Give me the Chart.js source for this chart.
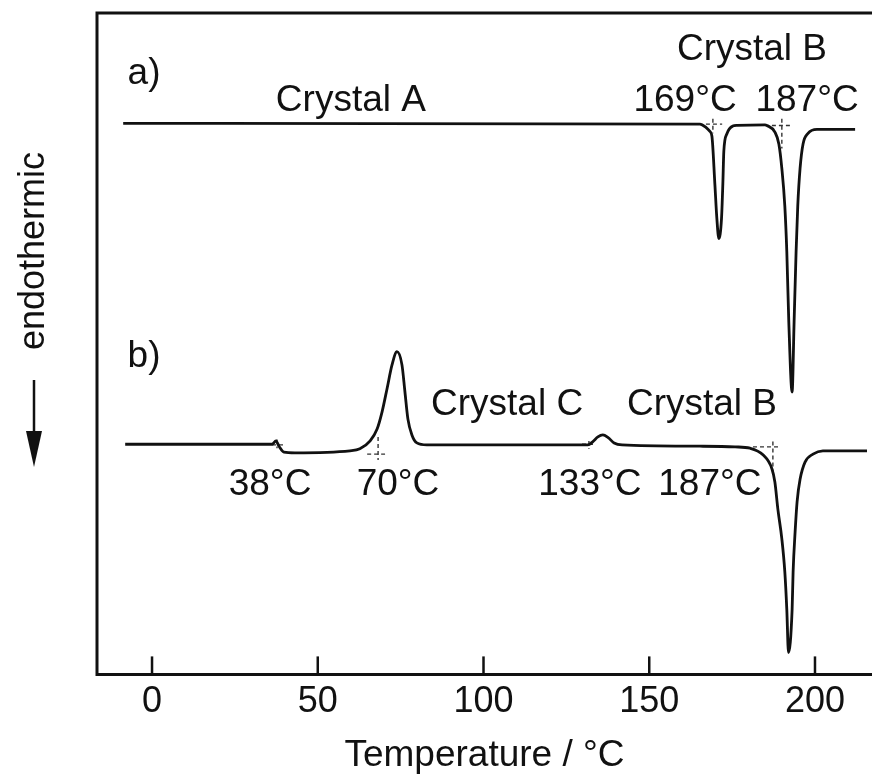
<!DOCTYPE html>
<html><head><meta charset="utf-8">
<script src="https://cdn.jsdelivr.net/npm/chart.js@4.4.1/dist/chart.umd.min.js"></script>
<style>html,body{margin:0;padding:0;background:#fff}#wrap{width:872px;height:774px;position:relative}</style>
</head><body><div id="wrap"><canvas id="c"></canvas></div>
<script>
// ---- data (temperature in °C, heat flow in arbitrary units) ----
const tempA = [-8.7, 165.3, 167.1, 168.3, 168.9, 169.8, 170.4, 171.0, 171.8, 172.2, 172.5, 173.4, 175.2, 176.5, 184.9,
  185.5, 187.9, 189.1, 190.0, 190.9, 191.5, 192.1, 193.1, 193.7, 194.3, 194.8, 195.5, 196.4, 197.9, 200.6, 212.1];
const signalA = [83.3, 83.2, 82.7, 82.1, 81.4, 74.1, 68.9, 65.9, 68.9, 74.1, 79.1, 81.7, 82.9, 83.0, 83.1,
  83.0, 82.0, 80.2, 76.5, 70.8, 63.9, 53.3, 42.7, 53.3, 63.9, 70.8, 76.5, 80.2, 81.8, 82.4, 82.4];

const tempB = [-8.1, 36.2, 37.4, 38.3, 39.8, 43.1, 59.7, 62.7, 65.8, 67.9, 69.4, 70.9, 72.4, 73.9, 75.4, 76.3, 77.2, 78.4, 79.9, 82.9,
  131.5, 133.0, 134.5, 136.0, 137.6, 139.4, 141.8, 165.3, 175.9,
  180.4, 184.3, 187.0, 187.9, 188.8, 190.0, 190.9, 191.5, 192.0, 193.1, 193.4, 194.0, 194.6, 195.5, 197.0, 199.4, 202.4, 215.7];
const signalB = [34.8, 34.8, 35.3, 34.5, 33.6, 33.5, 33.8, 34.1, 35.3, 37.1, 39.7, 43.2, 46.8, 48.8, 46.8, 42.7, 38.6, 36.2, 35.0, 34.7,
  34.7, 35.2, 35.9, 36.2, 35.8, 35.0, 34.7, 34.5, 34.4,
  34.2, 33.2, 31.1, 29.1, 25.0, 20.5, 15.5, 9.8, 3.3, 9.8, 15.5, 21.5, 26.1, 29.5, 32.1, 33.3, 33.8, 33.8];

// onset (tangent) construction marks; null separates segments
const onsetTemps = [167.1, 172.0, null, 169.2, 169.2, null, 187.0, 192.5, null, 190.0, 190.0, null,
  36.2, 39.8, null, 37.7, 37.7, null, 64.9, 70.3, null, 68.2, 68.2, null,
  129.7, 133.3, null, 131.8, 131.8, null, 181.3, 189.1, null, 187.3, 187.3];
const onsetSignals = [83.2, 83.2, null, 84.0, 81.8, null, 83.0, 83.0, null, 84.0, 79.5, null,
  34.7, 34.7, null, 35.5, 34.2, null, 33.3, 33.3, null, 35.9, 32.4, null,
  34.8, 34.8, null, 35.3, 34.1, null, 34.4, 34.4, null, 35.2, 30.6];

const xTicks = [0, 50, 100, 150, 200];

const labelTexts = ['a)', 'Crystal A', 'Crystal B', '169°C', '187°C',
  'b)', 'Crystal C', 'Crystal B', '38°C', '70°C', '133°C', '187°C'];
const labelTemps = [-2.4, 60.0, 181.0, 160.8, 197.6, -2.4, 107.1, 165.9, 35.6, 74.2, 132.1, 168.3];
const labelSignals = [89.2, 85.2, 92.9, 85.2, 85.2, 46.5, 39.2, 39.2, 27.1, 27.1, 27.1, 27.1];

const FONT = '"Liberation Sans", Arial, Helvetica, sans-serif';
const INK = '#111';

const xy = (xs, ys) => xs.map((t, i) => ({x: t === null ? xs[i - 1] : t, y: ys[i]}));

const decor = {
  id: 'decor',
  afterDraw(chart) {
    const {ctx, chartArea: a, scales: {x, y}} = chart;
    ctx.save();
    ctx.strokeStyle = INK; ctx.fillStyle = INK;
    ctx.lineWidth = 3; ctx.lineCap = 'square';
    ctx.beginPath();
    ctx.moveTo(a.left, a.bottom); ctx.lineTo(a.left, a.top); ctx.lineTo(a.right + 5, a.top);
    ctx.stroke();
    // inward ticks
    ctx.lineWidth = 2.5; ctx.lineCap = 'butt';
    xTicks.forEach(v => {
      const px = x.getPixelForValue(v);
      ctx.beginPath(); ctx.moveTo(px, a.bottom); ctx.lineTo(px, a.bottom - 18); ctx.stroke();
    });
    // annotations
    ctx.font = '37px ' + FONT; ctx.textAlign = 'center'; ctx.textBaseline = 'alphabetic';
    labelTexts.forEach((t, i) => {
      ctx.fillText(t, x.getPixelForValue(labelTemps[i]), y.getPixelForValue(labelSignals[i]));
    });
    // y label with arrow
    ctx.save();
    ctx.translate(44, 251); ctx.rotate(-Math.PI / 2);
    ctx.textAlign = 'center'; ctx.font = '36px ' + FONT;
    ctx.fillText('endothermic', 0, 0);
    ctx.restore();
    ctx.lineWidth = 2.5;
    ctx.beginPath(); ctx.moveTo(34, 380); ctx.lineTo(34, 440); ctx.stroke();
    ctx.beginPath(); ctx.moveTo(26, 431); ctx.lineTo(42, 431); ctx.lineTo(34, 467); ctx.closePath(); ctx.fill();
    ctx.restore();
  }
};

new Chart(document.getElementById('c'), {
  type: 'line',
  data: {datasets: [
    {label: 'a)', data: xy(tempA, signalA), borderColor: INK, borderWidth: 2.8, pointRadius: 0,
     cubicInterpolationMode: 'monotone', fill: false},
    {label: 'b)', data: xy(tempB, signalB), borderColor: INK, borderWidth: 2.8, pointRadius: 0,
     cubicInterpolationMode: 'monotone', fill: false},
    {label: 'onset', data: xy(onsetTemps, onsetSignals), borderColor: '#333', borderWidth: 1.4,
     borderDash: [4, 3], pointRadius: 0, spanGaps: false, fill: false}
  ]},
  options: {
    responsive: true, maintainAspectRatio: false, animation: false,
    layout: {padding: {left: 97, top: 13, right: 0, bottom: 0}},
    plugins: {legend: {display: false}, tooltip: {enabled: false}},
    scales: {
      x: {type: 'linear', min: -16.6, max: 217.2,
        afterBuildTicks: s => { s.ticks = xTicks.map(v => ({value: v})); },
        grid: {drawOnChartArea: false, drawTicks: false},
        border: {display: true, color: INK, width: 3},
        ticks: {font: {size: 36, family: FONT}, color: INK, padding: 6, maxRotation: 0, autoSkip: false, includeBounds: false},
        title: {display: true, text: 'Temperature / °C', font: {size: 37, family: FONT}, color: INK,
          padding: {top: 4, bottom: -4}}
      },
      y: {display: false, min: 0, max: 100}
    }
  },
  plugins: [decor]
});
</script>
</body></html>
